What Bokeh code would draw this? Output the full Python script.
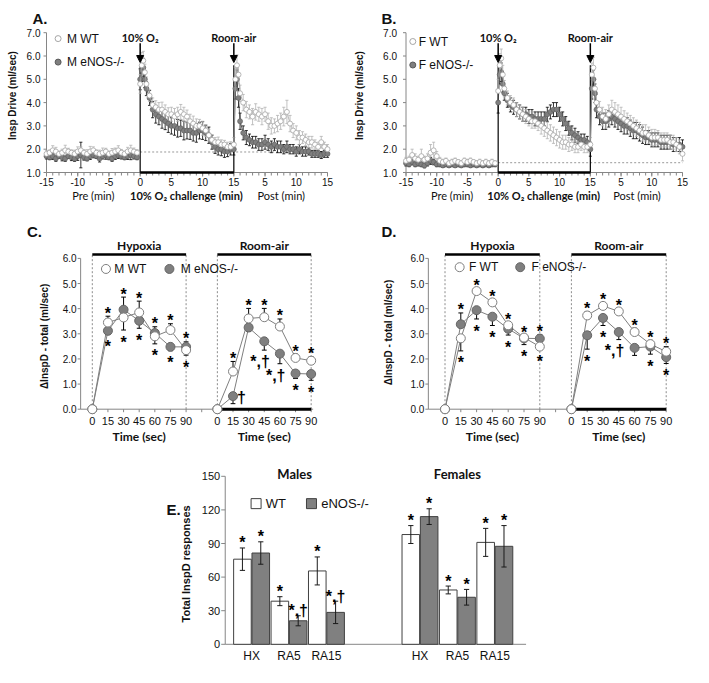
import math
from bokeh.plotting import figure
from bokeh.layouts import column, row
from bokeh.models import Arrow, NormalHead, Range1d
from bokeh.embed import file_html
from bokeh.resources import INLINE
from bokeh.core.properties import value

# ---------------------------------------------------------------- data
t_pre = [-15.0, -14.5, -14.0, -13.5, -13.0, -12.5, -12.0, -11.5, -11.0, -10.5,
         -10.0, -9.5, -9.0, -8.5, -8.0, -7.5, -7.0, -6.5, -6.0, -5.5,
         -5.0, -4.5, -4.0, -3.5, -3.0, -2.5, -2.0, -1.5, -1.0, -0.5]
t_hyp = [0.0, 0.25, 0.5, 0.75, 1.0, 1.5, 2.0, 2.5, 3.0, 3.5, 4.0, 4.5, 5.0, 5.5,
         6.0, 6.5, 7.0, 7.5, 8.0, 8.5, 9.0, 9.5, 10.0, 10.5, 11.0, 11.5, 12.0,
         12.5, 13.0, 13.5, 14.0, 14.5]
t_post = [0.0, 0.25, 0.5, 0.75, 1.0, 1.5, 2.0, 2.5, 3.0, 3.5, 4.0, 4.5, 5.0, 5.5,
          6.0, 6.5, 7.0, 7.5, 8.0, 8.5, 9.0, 9.5, 10.0, 10.5, 11.0, 11.5, 12.0,
          12.5, 13.0, 13.5, 14.0, 14.5, 15.0]
CHALLENGE_MIN = 15.0
x_tick_vals = [-15, -10, -5, 0, 5, 10, 15, 20, 25, 30]
x_tick_text = ["-15", "-10", "-5", "0", "5", "10", "15", "5", "10", "15"]
y_tick_vals_ab = [1, 2, 3, 4, 5, 6, 7]
period_labels = ["Pre (min)", "10% O₂ challenge (min)", "Post (min)"]

# Panel A (males)
A_WT_pre = [1.80, 1.85, 1.95, 1.90, 1.80, 1.85, 1.95, 1.90, 1.85, 1.80, 1.90, 1.95, 1.85, 1.80, 1.90,
            1.95, 1.85, 1.80, 1.85, 1.90, 1.80, 1.85, 1.90, 1.95, 1.85, 1.80, 1.90, 1.95, 1.90, 1.85]
A_KO_pre = [1.70, 1.65, 1.70, 1.60, 1.70, 1.65, 1.60, 1.70, 1.65, 1.60, 1.70, 1.75, 1.65, 1.60, 1.70,
            1.75, 1.70, 1.60, 1.70, 1.75, 1.65, 1.60, 1.70, 1.75, 1.70, 1.65, 1.70, 1.75, 1.70, 1.65]
A_WT_pre_err = [0.15, 0.12, 0.20, 0.18, 0.12, 0.15, 0.22, 0.14, 0.12, 0.16, 0.20, 0.15, 0.13, 0.18, 0.22,
                0.15, 0.12, 0.16, 0.20, 0.14, 0.12, 0.18, 0.15, 0.20, 0.14, 0.12, 0.18, 0.22, 0.15, 0.13]
A_KO_pre_err = [0.12, 0.10, 0.14, 0.12, 0.10, 0.15, 0.12, 0.10, 0.14, 0.12, 0.18, 0.55, 0.12, 0.10, 0.14,
                0.12, 0.10, 0.15, 0.12, 0.18, 0.10, 0.12, 0.14, 0.15, 0.12, 0.10, 0.14, 0.20, 0.12, 0.10]
A_WT_hyp = [4.8, 5.6, 5.8, 5.3, 4.8, 4.3, 3.9, 3.8, 3.7, 3.7, 3.6, 3.5, 3.5, 3.4, 3.5, 3.6,
            3.5, 3.4, 3.2, 3.1, 3.0, 3.0, 2.9, 2.8, 2.6, 2.4, 2.3, 2.3, 2.2, 2.2, 2.1, 2.1]
A_KO_hyp = [5.0, 5.4, 5.5, 5.0, 4.6, 4.2, 3.7, 3.5, 3.4, 3.3, 3.2, 3.1, 3.0, 3.0, 2.9, 2.9,
            2.8, 2.8, 2.8, 2.7, 2.7, 2.8, 2.8, 2.7, 2.6, 2.3, 2.1, 2.0, 2.0, 1.9, 1.9, 2.0]
A_WT_hyp_err = [0.40, 0.55, 0.40, 0.35, 0.30, 0.25, 0.30, 0.28, 0.30, 0.32, 0.30, 0.28, 0.30, 0.35, 0.30, 0.32,
                0.30, 0.28, 0.30, 0.32, 0.30, 0.28, 0.30, 0.25, 0.25, 0.22, 0.20, 0.22, 0.20, 0.18, 0.20, 0.22]
A_KO_hyp_err = [0.45, 0.50, 0.40, 0.35, 0.30, 0.32, 0.35, 0.38, 0.35, 0.40, 0.36, 0.38, 0.35, 0.40, 0.38, 0.35,
                0.40, 0.36, 0.38, 0.35, 0.40, 0.36, 0.38, 0.33, 0.35, 0.30, 0.28, 0.25, 0.28, 0.25, 0.22, 0.25]
A_WT_post = [2.2, 5.0, 5.6, 5.2, 4.4, 4.0, 3.7, 3.6, 3.4, 3.6, 3.5, 3.4, 3.5, 3.2, 3.0, 3.0, 3.1,
             3.2, 3.4, 3.6, 3.1, 2.8, 2.7, 2.5, 2.5, 2.4, 2.3, 2.3, 2.2, 2.1, 2.3, 2.1, 2.0]
A_KO_post = [2.0, 4.6, 5.0, 4.2, 3.2, 2.7, 2.5, 2.4, 2.3, 2.3, 2.2, 2.2, 2.3, 2.2, 2.1, 2.2, 2.1,
             2.1, 2.0, 2.1, 2.0, 2.0, 1.9, 2.0, 1.9, 1.9, 1.9, 1.8, 1.8, 1.8, 1.75, 1.8, 1.8]
A_WT_post_err = [0.30, 0.50, 0.45, 0.40, 0.35, 0.35, 0.35, 0.30, 0.35, 0.35, 0.30, 0.35, 0.30, 0.35, 0.35, 0.30, 0.35,
                 0.35, 0.40, 0.50, 0.35, 0.30, 0.30, 0.30, 0.25, 0.25, 0.25, 0.25, 0.20, 0.20, 0.25, 0.20, 0.20]
A_KO_post_err = [0.25, 0.45, 0.40, 0.40, 0.35, 0.30, 0.30, 0.25, 0.25, 0.25, 0.25, 0.25, 0.30, 0.25, 0.25, 0.25, 0.25,
                 0.25, 0.20, 0.25, 0.20, 0.20, 0.20, 0.20, 0.20, 0.20, 0.15, 0.15, 0.15, 0.15, 0.15, 0.15, 0.15]
A_baseline = 1.88

# Panel B (females)
B_WT_pre = [1.50, 1.55, 1.75, 1.60, 1.55, 1.70, 1.55, 1.60, 1.85, 1.95, 1.70, 1.50, 1.45, 1.50, 1.40,
            1.45, 1.50, 1.45, 1.40, 1.50, 1.45, 1.50, 1.45, 1.40, 1.45, 1.40, 1.45, 1.40, 1.45, 1.40]
B_KO_pre = [1.40, 1.35, 1.45, 1.35, 1.40, 1.35, 1.30, 1.40, 1.50, 1.45, 1.35, 1.35, 1.30, 1.35, 1.30,
            1.35, 1.30, 1.35, 1.30, 1.35, 1.35, 1.30, 1.35, 1.30, 1.35, 1.30, 1.35, 1.30, 1.35, 1.35]
B_WT_pre_err = [0.15, 0.15, 0.25, 0.20, 0.15, 0.30, 0.15, 0.20, 0.35, 0.35, 0.20, 0.15, 0.12, 0.12, 0.10,
                0.12, 0.12, 0.10, 0.10, 0.12, 0.12, 0.12, 0.10, 0.10, 0.12, 0.10, 0.12, 0.10, 0.12, 0.10]
B_KO_pre_err = [0.12, 0.10, 0.12, 0.10, 0.12, 0.10, 0.10, 0.12, 0.15, 0.12, 0.10, 0.10, 0.08, 0.10, 0.08,
                0.10, 0.08, 0.10, 0.08, 0.10, 0.10, 0.08, 0.10, 0.08, 0.10, 0.08, 0.10, 0.08, 0.10, 0.10]
B_WT_hyp = [4.5, 5.6, 5.9, 5.2, 4.6, 4.2, 4.0, 3.9, 3.7, 3.6, 3.5, 3.4, 3.3, 3.2, 3.2, 3.1,
            3.0, 2.9, 2.8, 2.7, 2.6, 2.5, 2.4, 2.3, 2.3, 2.2, 2.2, 2.1, 2.1, 2.2, 2.1, 2.1]
B_KO_hyp = [4.0, 5.2, 5.3, 4.8, 4.4, 4.1, 3.9, 3.8, 3.7, 3.6, 3.5, 3.5, 3.4, 3.4, 3.3, 3.3,
            3.3, 3.3, 3.5, 3.6, 3.7, 3.7, 3.5, 3.3, 3.1, 2.9, 2.7, 2.6, 2.5, 2.4, 2.4, 2.3]
B_WT_hyp_err = [0.50, 0.50, 0.40, 0.40, 0.35, 0.30, 0.30, 0.30, 0.30, 0.30, 0.30, 0.30, 0.30, 0.30, 0.30, 0.30,
                0.35, 0.35, 0.35, 0.35, 0.35, 0.35, 0.35, 0.30, 0.30, 0.30, 0.25, 0.25, 0.25, 0.25, 0.25, 0.25]
B_KO_hyp_err = [0.45, 0.40, 0.40, 0.35, 0.30, 0.30, 0.30, 0.30, 0.30, 0.30, 0.30, 0.30, 0.30, 0.30, 0.30, 0.30,
                0.30, 0.30, 0.30, 0.30, 0.30, 0.30, 0.30, 0.30, 0.30, 0.30, 0.30, 0.30, 0.25, 0.25, 0.25, 0.25]
B_WT_post = [2.2, 5.2, 5.5, 4.6, 4.0, 3.7, 3.4, 3.3, 3.5, 3.7, 3.6, 3.5, 3.4, 3.3, 3.2, 3.1, 3.0,
             2.9, 2.8, 2.7, 2.7, 2.6, 2.5, 2.5, 2.5, 2.4, 2.4, 2.4, 2.3, 2.3, 2.2, 2.1, 1.8]
B_KO_post = [2.0, 4.6, 5.0, 4.4, 3.7, 3.4, 3.2, 3.2, 3.3, 3.4, 3.3, 3.2, 3.1, 3.0, 3.0, 2.9, 2.8,
             2.8, 2.7, 2.6, 2.5, 2.5, 2.4, 2.4, 2.4, 2.3, 2.3, 2.3, 2.3, 2.2, 2.2, 2.2, 2.1]
B_WT_post_err = [0.30, 0.50, 0.45, 0.40, 0.35, 0.35, 0.40, 0.40, 0.40, 0.40, 0.40, 0.40, 0.40, 0.35, 0.35, 0.35, 0.35,
                 0.35, 0.35, 0.35, 0.35, 0.35, 0.35, 0.35, 0.30, 0.30, 0.30, 0.30, 0.30, 0.30, 0.30, 0.30, 0.30]
B_KO_post_err = [0.30, 0.45, 0.40, 0.40, 0.35, 0.35, 0.35, 0.35, 0.35, 0.35, 0.35, 0.35, 0.35, 0.35, 0.35, 0.35, 0.35,
                 0.35, 0.35, 0.35, 0.30, 0.30, 0.30, 0.30, 0.30, 0.30, 0.30, 0.30, 0.30, 0.30, 0.30, 0.30, 0.30]
B_baseline = 1.42

# Panels C / D
t_sec = [0, 15, 30, 45, 60, 75, 90]
RA_OFFSET = 120
sec_tick_text = ["0", "15", "30", "45", "60", "75", "90"]
y_tick_vals_cd = [0, 1, 2, 3, 4, 5, 6]

C_hyp_wt = [0, 3.45, 3.65, 3.85, 2.90, 3.15, 2.35]
C_hyp_wt_err = [0, 0.25, 0.50, 0.45, 0.30, 0.25, 0.20]
C_hyp_ko = [0, 3.12, 3.96, 3.52, 3.03, 2.48, 2.48]
C_hyp_ko_err = [0, 0.15, 0.50, 0.30, 0.25, 0.15, 0.20]
C_ra_wt = [0, 1.50, 3.61, 3.66, 3.29, 2.04, 1.93]
C_ra_wt_err = [0, 0.40, 0.40, 0.35, 0.30, 0.15, 0.15]
C_ra_ko = [0, 0.52, 3.25, 2.70, 2.21, 1.42, 1.40]
C_ra_ko_err = [0, 0.30, 0.15, 0.35, 0.40, 0.20, 0.25]
C_hyp_top = ["", "*", "*", "*", "*", "*", "*"]
C_hyp_bot = ["", "*", "*", "*", "*", "*", "*"]
C_ra_top = ["", "*", "*", "*", "*", "*", "*"]
C_ra_bot = ["", "", "", "", "", "*", "*"]
C_ra_note = ["", "†", "", "*,†", "*,†", "", ""]

D_hyp_wt = [0, 2.82, 4.70, 4.25, 3.34, 2.85, 2.49]
D_hyp_wt_err = [0, 0.50, 0.10, 0.10, 0.10, 0.10, 0.10]
D_hyp_ko = [0, 3.38, 3.94, 3.68, 3.20, 2.82, 2.81]
D_hyp_ko_err = [0, 0.45, 0.35, 0.35, 0.25, 0.25, 0.15]
D_ra_wt = [0, 3.73, 4.11, 3.89, 3.07, 2.59, 2.29]
D_ra_wt_err = [0, 0.15, 0.12, 0.10, 0.15, 0.15, 0.20]
D_ra_ko = [0, 2.94, 3.63, 3.07, 2.44, 2.49, 2.07]
D_ra_ko_err = [0, 0.55, 0.30, 0.30, 0.30, 0.30, 0.25]
D_hyp_top = ["", "*", "*", "*", "*", "*", "*"]
D_hyp_bot = ["", "*", "*", "*", "*", "*", "*"]
D_ra_top = ["", "*", "*", "*", "*", "*", "*"]
D_ra_bot = ["", "*", "*", "", "", "*", "*"]
D_ra_note = ["", "", "", "*,†", "", "", ""]

# Panel E
E_cats = ["HX", "RA5", "RA15"]
E_male_wt = [76.0, 38.5, 65.5]
E_male_wt_err = [10.0, 4.0, 12.5]
E_male_ko = [81.5, 21.0, 28.5]
E_male_ko_err = [10.0, 4.5, 10.0]
E_female_wt = [98.0, 48.5, 91.0]
E_female_wt_err = [8.0, 3.5, 12.5]
E_female_ko = [114.0, 42.0, 87.5]
E_female_ko_err = [7.0, 7.0, 18.5]
E_male_wt_mark = ["*", "*", "*"]
E_male_ko_mark = ["*", "*,†", "*,†"]
E_female_wt_mark = ["*", "*", "*"]
E_female_ko_mark = ["*", "*", "*"]
E_y_ticks = [0, 30, 60, 90, 120, 150]

# ---------------------------------------------------------------- helpers
SANS = "Liberation Sans"
CAL = "Lato"
AXIS_GRAY = "#868686"
TXT = "#111111"
DARK = "#7f7f7f"
WT_LINE = "#a6a6a6"


class Canvas:
    """A figure whose whole area is the plotting frame; (px, value) anchors fix the scales."""

    def __init__(self, W, H, xa, xb, ya, yb):
        self.sx = (xb[0] - xa[0]) / (xb[1] - xa[1])
        self.x0 = xa[1] - xa[0] / self.sx
        self.sy = (ya[0] - yb[0]) / (yb[1] - ya[1])
        self.ytop = yb[1] + yb[0] / self.sy
        self.p = figure(width=W, height=H,
                        x_range=Range1d(self.x0, self.x0 + W / self.sx),
                        y_range=Range1d(self.ytop - H / self.sy, self.ytop),
                        x_axis_location=None, y_axis_location=None, min_border=0,
                        output_backend="svg", toolbar_location=None)
        self.p.grid.visible = False
        self.p.outline_line_color = None
        self.p.background_fill_color = "white"
        self.p.border_fill_color = "white"

    def X(self, px):
        return self.x0 + px / self.sx

    def Y(self, py):
        return self.ytop - py / self.sy

    def dx(self, px):
        return px / self.sx

    def dy(self, py):
        return py / self.sy

    def text(self, xs, ys, texts, size, font=SANS, bold=False, align="center",
             baseline="middle", angle=0.0, color=TXT):
        self.p.text(x=xs, y=ys, text=texts, text_font=value(font), text_font_size=size,
                    text_font_style="bold" if bold else "normal", text_align=align,
                    text_baseline=baseline, angle=angle, text_color=color)

    def yaxis(self, x_at, lo, hi, ticks, labels, gap_px, size, tick_px=3):
        p = self.p
        p.segment(x0=[x_at], y0=[lo], x1=[x_at], y1=[hi], line_color=AXIS_GRAY, line_width=1)
        n = len(ticks)
        p.segment(x0=[x_at - self.dx(tick_px)] * n, y0=ticks, x1=[x_at] * n, y1=ticks,
                  line_color=AXIS_GRAY, line_width=1)
        self.text([x_at - self.dx(gap_px)] * n, ticks, labels, size, align="right")

    def xaxis(self, y_at, lo, hi, ticks, labels, label_py, size, tick_px=4,
              minor=None, minor_px=3):
        p = self.p
        p.segment(x0=[lo], y0=[y_at], x1=[hi], y1=[y_at], line_color=AXIS_GRAY, line_width=1)
        n = len(ticks)
        p.segment(x0=ticks, y0=[y_at] * n, x1=ticks, y1=[y_at - self.dy(tick_px)] * n,
                  line_color=AXIS_GRAY, line_width=1)
        if minor:
            m = len(minor)
            p.segment(x0=minor, y0=[y_at] * m, x1=minor, y1=[y_at - self.dy(minor_px)] * m,
                      line_color=AXIS_GRAY, line_width=1)
        self.text(ticks, [self.Y(label_py)] * n, labels, size)


def error_bars(p, x, v, e, color, cap, direction=None, width=1.0):
    sx, sy0, sy1, cx0, cx1, cy = [], [], [], [], [], []
    for i, (xi, vi, ei) in enumerate(zip(x, v, e)):
        if ei <= 0:
            continue
        d = 0 if direction is None else direction[i]
        lo = vi - ei if d <= 0 else vi
        hi = vi + ei if d >= 0 else vi
        sx.append(xi); sy0.append(lo); sy1.append(hi)
        if d >= 0:
            cx0.append(xi - cap); cx1.append(xi + cap); cy.append(hi)
        if d <= 0:
            cx0.append(xi - cap); cx1.append(xi + cap); cy.append(lo)
    p.segment(x0=sx, y0=sy0, x1=sx, y1=sy1, line_color=color, line_width=width)
    p.segment(x0=cx0, y0=cy, x1=cx1, y1=cy, line_color=color, line_width=width)


def timecourse(title, title_px, ylab_px, leg_px, wt_name, ko_name, wt, ko, wt_e, ko_e,
               baseline, W, frame_l, frame_r, tick_gap):
    c = Canvas(W, 212, (frame_l, -15), (frame_r, 30), (172.0, 1), (32.2, 7))
    p = c.p
    c.yaxis(-15, 1, 7, y_tick_vals_ab, ["%.1f" % v for v in y_tick_vals_ab], tick_gap, "10px")
    c.xaxis(1, -15, 30, x_tick_vals, x_tick_text, 181, "10px", tick_px=4,
            minor=list(range(-15, 31)), minor_px=3)
    c.text([c.X(ylab_px)], [4.3], ["Insp Drive (ml/sec)"], "10px", bold=True, angle=math.pi / 2)
    c.text([c.X(title_px)], [c.Y(18)], [title], "15px", bold=True, align="left")
    for xc, txt, bold in zip([-7.5, 7.4, 22.6], period_labels, [False, True, False]):
        c.text([xc], [c.Y(195)], [txt], "11px", font=CAL, bold=bold)

    segs = [t_pre, t_hyp, [t + CHALLENGE_MIN for t in t_post]]
    p.segment(x0=[0], y0=[baseline], x1=[30], y1=[baseline], line_color="#999999",
              line_dash="2 2", line_width=1)
    p.segment(x0=[0], y0=[1.0], x1=[CHALLENGE_MIN], y1=[1.0], line_color="black", line_width=2.5)
    p.segment(x0=[0, CHALLENGE_MIN], y0=[1.0, 1.0], x1=[0, CHALLENGE_MIN], y1=[5.6, 5.6],
              line_color="black", line_width=1.2)
    for xs, k, ke in zip(segs, ko, ko_e):
        error_bars(p, xs, k, ke, "black", 0.25, width=0.8)
    for xs, w, we in zip(segs, wt, wt_e):
        error_bars(p, xs, w, we, "#b3b3b3", 0.25, width=0.8)
    for xs, k in zip(segs, ko):
        p.line(xs, k, line_color="#333333", line_width=0.8)
        p.scatter(xs, k, size=5, marker="circle", fill_color=DARK, line_color="#5a5a5a", line_width=0.6)
    for xs, w in zip(segs, wt):
        p.line(xs, w, line_color=WT_LINE, line_width=0.8)
        p.scatter(xs, w, size=5, marker="circle", fill_color="white", line_color=WT_LINE, line_width=0.8)

    for xe in (0, CHALLENGE_MIN):
        p.add_layout(Arrow(end=NormalHead(size=7, fill_color="black", line_color="black"),
                           x_start=xe, y_start=6.55, x_end=xe, y_end=5.72,
                           line_color="black", line_width=1.5))
    c.text([0, CHALLENGE_MIN], [c.Y(37), c.Y(37)], ["10% O₂", "Room-air"], "11px", font=CAL, bold=True)
    mx, my1, my2, tx = leg_px
    p.scatter([c.X(mx)], [c.Y(my1)], size=6, marker="circle", fill_color="white", line_color=WT_LINE)
    p.scatter([c.X(mx)], [c.Y(my2)], size=6, marker="circle", fill_color=DARK, line_color="#5a5a5a")
    c.text([c.X(tx), c.X(tx)], [c.Y(my1), c.Y(my2)], [wt_name, ko_name], "12px", align="left")
    return p


def change_panel(title, title_px, ylab_px, ylab_y, leg, wt_name, ko_name, hyp, ra, marks,
                 W, x0px, x90px, axis_lo, axis_hi):
    c = Canvas(W, 247, (x0px, 0), (x90px, 90), (196.7, 0), (45.9, 6))
    p = c.p
    c.yaxis(axis_lo, 0, 6, y_tick_vals_cd, ["%.1f" % v for v in y_tick_vals_cd], 4, "10px")
    ra_x = [t + RA_OFFSET for t in t_sec]
    c.xaxis(0, axis_lo, axis_hi, t_sec + [105] + ra_x, sec_tick_text + [""] + sec_tick_text,
            208, "11px", tick_px=3)
    c.text([c.X(ylab_px)], [ylab_y], ["ΔInspD - total (ml/sec)"], "10px", bold=True, angle=math.pi / 2)
    c.text([c.X(title_px)], [c.Y(19.4)], [title], "15px", bold=True, align="left")
    c.text([45, RA_OFFSET + 45], [c.Y(223.7)] * 2, ["Time (sec)", "Time (sec)"], "12px",
           font=CAL, bold=True)

    for x0 in (0, RA_OFFSET):
        p.segment(x0=[x0, x0 + 90], y0=[0, 0], x1=[x0, x0 + 90], y1=[6.16, 6.16],
                  line_color="#8c8c8c", line_dash="2 2", line_width=1)
        p.segment(x0=[x0], y0=[6.16], x1=[x0 + 90], y1=[6.16], line_color="black", line_width=2.5)
    p.segment(x0=[RA_OFFSET], y0=[0], x1=[RA_OFFSET + 90], y1=[0], line_color="black", line_width=3)
    c.text([45, RA_OFFSET + 45], [6.51, 6.51], ["Hypoxia", "Room-air"], "12px", font=CAL, bold=True)

    star_x, star_y, star_t = [], [], []
    for xs, (wt, wte, ko, koe), (top, bot, note) in zip((t_sec, ra_x), (hyp, ra), marks):
        dirs_wt = [0] + [1 if w >= k else -1 for w, k in zip(wt[1:], ko[1:])]
        dirs_ko = [0] + [-d for d in dirs_wt[1:]]
        p.line(xs, wt, line_color=DARK, line_width=1)
        p.line(xs, ko, line_color=DARK, line_width=1)
        error_bars(p, xs, wt, wte, "black", 2.3, dirs_wt, 1.0)
        error_bars(p, xs, ko, koe, "black", 2.3, dirs_ko, 1.0)
        p.scatter(xs, ko, size=9, marker="circle", fill_color=DARK, line_color="#666666")
        p.scatter(xs, wt, size=9, marker="circle", fill_color="white", line_color=DARK, line_width=1)
        for i in range(1, len(xs)):
            hi = max(wt[i] + (wte[i] if dirs_wt[i] > 0 else 0), ko[i] + (koe[i] if dirs_ko[i] > 0 else 0))
            lo = min(wt[i] - (wte[i] if dirs_wt[i] < 0 else 0), ko[i] - (koe[i] if dirs_ko[i] < 0 else 0))
            if top[i]:
                star_x.append(xs[i]); star_y.append(hi + 0.12); star_t.append(top[i])
            if bot[i]:
                star_x.append(xs[i]); star_y.append(lo - 0.48); star_t.append(bot[i])
            if note and note[i] == "†":
                star_x.append(xs[i] + 8); star_y.append(ko[i] - 0.05); star_t.append(note[i])
            elif note and note[i]:
                star_x.append(xs[i] - 4); star_y.append(ko[i] - koe[i] - 0.45); star_t.append(note[i])
    c.text(star_x, star_y, star_t, "16px", bold=True, color="#000000")
    wx, kx, ly, wtx, ktx = leg
    p.scatter([wx], [ly], size=9, marker="circle", fill_color="white", line_color=DARK)
    p.scatter([kx], [ly], size=9, marker="circle", fill_color=DARK, line_color="#666666")
    c.text([wtx + c.dx(1.5), ktx + c.dx(1.5)], [ly, ly], [wt_name, ko_name], "12px", align="left")
    return p


pA = timecourse("A.", 32, 11.7, (57.6, 38.1, 61.6, 66.4), "M WT", "M eNOS-/-",
                [A_WT_pre, A_WT_hyp, A_WT_post], [A_KO_pre, A_KO_hyp, A_KO_post],
                [A_WT_pre_err, A_WT_hyp_err, A_WT_post_err], [A_KO_pre_err, A_KO_hyp_err, A_KO_post_err],
                A_baseline, 344, 46, 327, 6)
pB = timecourse("B.", 37, 14.6, (68.3, 41, 64.5, 74.2), "F WT", "F eNOS-/-",
                [B_WT_pre, B_WT_hyp, B_WT_post], [B_KO_pre, B_KO_hyp, B_KO_post],
                [B_WT_pre_err, B_WT_hyp_err, B_WT_post_err], [B_KO_pre_err, B_KO_hyp_err, B_KO_post_err],
                B_baseline, 349, 61.5, 338, 9)

pC = change_panel("C.", 26.4, 44, 2.9, (13.1, 74.0, 5.58, 19.7, 83.4), "M WT", "M eNOS-/-",
                  (C_hyp_wt, C_hyp_wt_err, C_hyp_ko, C_hyp_ko_err),
                  (C_ra_wt, C_ra_wt_err, C_ra_ko, C_ra_ko_err),
                  ((C_hyp_top, C_hyp_bot, None), (C_ra_top, C_ra_bot, C_ra_note)),
                  344, 91.8, 185.6, -11.2, 211.9)
pD = change_panel("D.", 37, 44.4, 3.05, (13.9, 71.4, 5.65, 21.3, 80.7), "F WT", "F eNOS-/-",
                  (D_hyp_wt, D_hyp_wt_err, D_hyp_ko, D_hyp_ko_err),
                  (D_ra_wt, D_ra_wt_err, D_ra_ko, D_ra_ko_err),
                  ((D_hyp_top, D_hyp_bot, None), (D_ra_top, D_ra_bot, D_ra_note)),
                  349, 100.5, 195.3, -15.8, 209.7)

# ---------------------------------------------------------------- panel E
FEMALE_SHIFT = 4.5
BAR_W = 0.47
pos_m = [i for i in range(len(E_cats))]
pos_f = [i + FEMALE_SHIFT for i in range(len(E_cats))]
cE = Canvas(693, 208, (251.1, 0), (288.52, 1), (184.8, 0), (16.8, 150))
pE = cE.p
E_lo, E_hi = -0.705, 7.335
cE.yaxis(E_lo, 0, 150, E_y_ticks, [str(v) for v in E_y_ticks], 5, "11px", tick_px=4)
cE.xaxis(0, E_lo, E_hi, pos_m + pos_f, E_cats + E_cats, 196.6, "12px", tick_px=0)
cE.text([cE.X(185.6)], [71.8], ["Total InspD responses"], "11px", bold=True, angle=math.pi / 2)
cE.text([cE.X(166)], [cE.Y(50)], ["E."], "15px", bold=True, align="left")

half = BAR_W / 2 + 0.01
sx, sy, st = [], [], []
for pos, wt, wte, ko, koe, mw, mk in [(pos_m, E_male_wt, E_male_wt_err, E_male_ko, E_male_ko_err,
                                       E_male_wt_mark, E_male_ko_mark),
                                      (pos_f, E_female_wt, E_female_wt_err, E_female_ko, E_female_ko_err,
                                       E_female_wt_mark, E_female_ko_mark)]:
    xw = [x - half for x in pos]
    xk = [x + half for x in pos]
    pE.vbar(x=xw, top=wt, width=BAR_W, fill_color="white", line_color="#404040", line_width=1)
    pE.vbar(x=xk, top=ko, width=BAR_W, fill_color="#808080", line_color="#404040", line_width=1)
    error_bars(pE, xw, wt, wte, "#1a1a1a", 0.07, None, 1.0)
    error_bars(pE, xk, ko, koe, "#1a1a1a", 0.07, None, 1.0)
    for x, v, e, m in zip(xw + xk, wt + ko, wte + koe, mw + mk):
        sx.append(x); sy.append(v + e + 4.5); st.append(m)
cE.text(sx, sy, st, "16px", bold=True, color="#000000")
cE.text([1.15, 5.5], [151.8, 151.8], ["Males", "Females"], "13px", font=CAL, bold=True)
pE.scatter([0.12], [125.6], marker="square", size=10, fill_color="white", line_color="#404040")
pE.scatter([1.6], [125.6], marker="square", size=10, fill_color="#808080", line_color="#404040")
cE.text([0.3 + cE.dx(3), 1.78 + cE.dx(3)], [125.6, 125.6], ["WT", "eNOS-/-"], "13px", align="left")

layout = column(row(pA, pB), row(pC, pD), pE)
open("out.html", "w").write(file_html(layout, INLINE))
